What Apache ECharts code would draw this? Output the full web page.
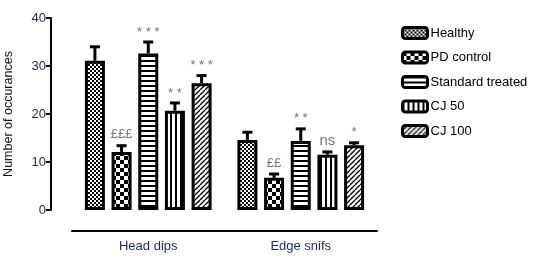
<!DOCTYPE html>
<html><head><meta charset="utf-8">
<script src="https://cdn.jsdelivr.net/npm/echarts@6/dist/echarts.min.js"></script>
<style>html,body{margin:0;padding:0;background:#fff}#c{width:533px;height:258px}</style>
</head><body><div id="c"></div>
<script>
const categories = ['Head dips', 'Edge snifs'];
const seriesNames = ['Healthy', 'PD control', 'Standard treated', 'CJ 50', 'CJ 100'];
const healthy = [31.1, 14.6];
const pdControl = [12.1, 6.7];
const standardTreated = [32.6, 14.4];
const cj50 = [20.7, 11.5];
const cj100 = [26.4, 13.5];
const healthyErr = [2.9, 1.6];
const pdControlErr = [1.3, 0.8];
const standardTreatedErr = [2.4, 2.5];
const cj50Err = [1.6, 0.6];
const cj100Err = [1.6, 0.5];
const healthyMark = ['', ''];
const pdControlMark = ['£££', '££'];
const standardTreatedMark = ['***', '**'];
const cj50Mark = ['**', 'ns'];
const cj100Mark = ['***', '*'];
const yTicks = [0, 10, 20, 30, 40];

const values = [healthy, pdControl, standardTreated, cj50, cj100];
const errs = [healthyErr, pdControlErr, standardTreatedErr, cj50Err, cj100Err];
const marks = [healthyMark, pdControlMark, standardTreatedMark, cj50Mark, cj100Mark];

function pat(size, draw) {
  const c = document.createElement('canvas');
  c.width = size; c.height = size;
  const g = c.getContext('2d');
  g.fillStyle = '#fff'; g.fillRect(0, 0, size, size);
  g.fillStyle = '#000'; g.strokeStyle = '#000';
  draw(g, size);
  return { image: c, repeat: 'repeat' };
}
const patterns = [
  pat(4, (g) => { g.fillRect(0, 0, 2, 2); g.fillRect(2, 2, 2, 2); }),
  pat(8, (g) => { g.fillRect(0, 0, 4, 4); g.fillRect(4, 4, 4, 4); }),
  pat(5, (g) => { g.fillRect(0, 0, 5, 2); }),
  pat(5, (g) => { g.fillRect(0, 0, 2, 5); }),
  pat(5, (g) => {
    g.lineWidth = 1.3;
    for (let k = -5; k <= 10; k += 5) { g.beginPath(); g.moveTo(k, 5); g.lineTo(k + 5, 0); g.stroke(); }
  })
];

const BW = 20, GAP = 6.67;
const errData = [];
for (let s = 0; s < 5; s++) for (let i = 0; i < categories.length; i++) {
  errData.push([i, values[s][i], values[s][i] + errs[s][i], s, marks[s][i]]);
}

const chart = echarts.init(document.getElementById('c'), null, { renderer: 'canvas' });
const axisColor = '#1c2a5c';
const series = seriesNames.map((n, s) => ({
  name: n, type: 'bar', barWidth: BW, barGap: (GAP / BW * 100) + '%',
  data: values[s],
  itemStyle: { color: patterns[s], borderColor: '#000', borderWidth: 3 },
  emphasis: { disabled: true }
}));
series.push({
  type: 'custom', data: errData, z: 5, silent: true,
  renderItem: function (params, api) {
    const cat = api.value(0), s = api.value(3);
    const off = (s - 2) * (BW + GAP);
    const p0 = api.coord([cat, api.value(1)]);
    const p1 = api.coord([cat, api.value(2)]);
    const x = p0[0] + off;
    const label = errData[params.dataIndex][4];
    const children = [
      { type: 'line', shape: { x1: x, y1: p0[1], x2: x, y2: p1[1] }, style: { stroke: '#000', lineWidth: 3 } },
      { type: 'line', shape: { x1: x - 5, y1: p1[1], x2: x + 5, y2: p1[1] }, style: { stroke: '#000', lineWidth: 3 } }
    ];
    if (label) {
      const isStar = label.indexOf('*') >= 0;
      const isNs = label === 'ns';
      children.push({ type: 'text', style: {
        text: isStar ? label.split('').join(' ') : label,
        x: x, y: p1[1] - (isStar ? 10 : 11),
        textAlign: 'center', textVerticalAlign: 'middle', fill: '#777',
        font: (isNs ? '15px' : '13px') + ' "Liberation Sans", Arial, sans-serif' } });
    }
    return { type: 'group', children: children };
  }
});

chart.setOption({
  animation: false,
  textStyle: { fontFamily: '"Liberation Sans", Arial, sans-serif' },
  grid: { left: 72, right: 156, top: 18, bottom: 48, containLabel: false, outerBoundsMode: 'none' },
  legend: {
    orient: 'vertical', left: 396, top: 21, itemWidth: 25, itemHeight: 11, itemGap: 10.5,
    data: seriesNames,
    textStyle: { fontSize: 13, color: '#000', padding: [0, 0, 0, -2] },
    itemStyle: { borderColor: '#000', borderWidth: 3 }
  },
  xAxis: {
    type: 'category', data: categories, offset: 21,
    axisLine: { onZero: false, lineStyle: { color: '#000', width: 2 } },
    axisTick: { alignWithLabel: true, length: 5, lineStyle: { color: '#000', width: 2 } },
    axisLabel: { fontSize: 13, color: axisColor, margin: 9 }
  },
  yAxis: {
    type: 'value', min: 0, max: 40, interval: 10, offset: 21,
    name: 'Number of occurances', nameLocation: 'middle', nameGap: 36,
    nameTextStyle: { fontSize: 12.5, color: '#111' },
    axisLine: { show: true, onZero: false, lineStyle: { color: '#000', width: 2 } },
    axisTick: { show: true, length: 5, lineStyle: { color: '#000', width: 2 } },
    axisLabel: { fontSize: 13, color: axisColor, margin: 5, formatter: v => yTicks.indexOf(v) >= 0 ? String(v) : '' },
    splitLine: { show: false }
  },
  series: series
});
</script></body></html>
